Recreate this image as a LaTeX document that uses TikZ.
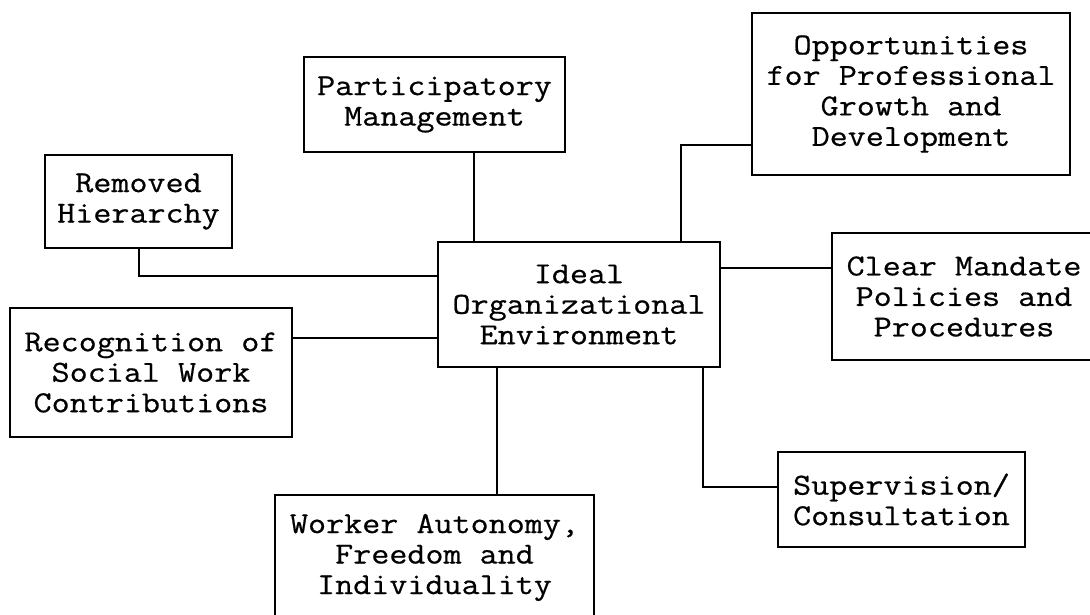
\documentclass[tikz,border=0pt]{standalone}
\usepackage{fontspec}
\setmonofont{Latin Modern Mono}[FakeStretch=1.15,FakeBold=0.6]
\begin{document}
\begin{tikzpicture}[x=1pt,y=-1pt,
  box/.style={draw, line width=1.5pt, inner sep=0pt, align=center,
    font=\ttfamily\fontsize{30.5}{30.5}\selectfont},
  link/.style={line width=1.5pt}]
\useasboundingbox (0,0) rectangle (1090,615);
\clip (0,0) rectangle (1090,615);
\node[box, minimum width=261pt, minimum height=95pt] (part) at (434.5,104.5) {Participatory\\Management};
\node[box, minimum width=187pt, minimum height=93pt] (rem) at (138.5,201.5) {Removed\\Hierarchy};
\node[box, minimum width=318pt, minimum height=162pt] (opp) at (911,94) {Opportunities\\for Professional\\Growth and\\Development};
\node[box, minimum width=282pt, minimum height=125pt] (ideal) at (579,304.5) {Ideal\\Organizational\\Environment};
\node[box, minimum width=264pt, minimum height=127pt] (clear) at (964,296.5) {Clear Mandate\\Policies and\\Procedures};
\node[box, minimum width=282pt, minimum height=129pt] (rec) at (151,372.5) {Recognition of\\Social Work\\Contributions};
\node[box, minimum width=319pt, minimum height=125pt] (work) at (434.5,557.5) {Worker Autonomy,\\Freedom and\\Individuality};
\node[box, minimum width=247pt, minimum height=95pt] (sup) at (901.5,499.5) {Supervision/\\Consultation};
\draw[link] (part.south -| 474,0) -- (ideal.north -| 474,0);
\draw[link] (rem.south -| 139,0) |- (ideal.west |- 0,276);
\draw[link] (opp.west |- 0,145) -| (ideal.north -| 681,0);
\draw[link] (ideal.east |- 0,268) -- (clear.west |- 0,268);
\draw[link] (rec.east |- 0,338) -- (ideal.west |- 0,338);
\draw[link] (ideal.south -| 497,0) -- (work.north -| 497,0);
\draw[link] (ideal.south -| 703,0) |- (sup.west |- 0,487);
\end{tikzpicture}
\end{document}
